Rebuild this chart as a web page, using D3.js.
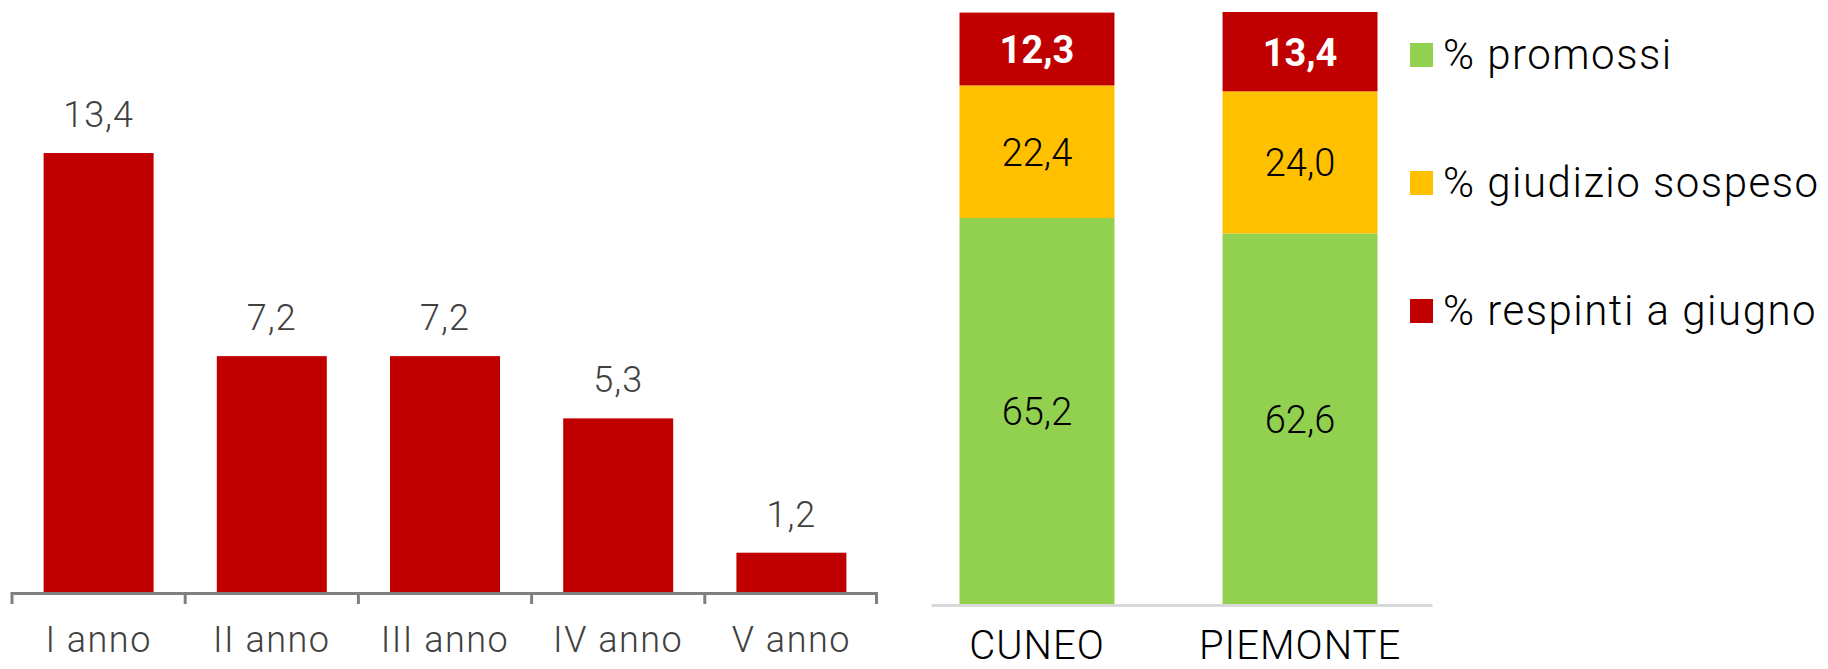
<!DOCTYPE html>
<html>
<head>
<meta charset="utf-8">
<script src="https://cdn.jsdelivr.net/npm/d3@7"></script>
<style>
  body { margin: 0; background: #fff; }
  svg { display: block; font-family: Roboto, "Open Sans", sans-serif; }
</style>
</head>
<body>
<div id="chart"></div>
<script>
// left chart: respinti per anno
let anni = ["I anno", "II anno", "III anno", "IV anno", "V anno"];
let respintiAnno = [13.4, 7.2, 7.2, 5.3, 1.2];

// right chart: esiti, stacked to 100
let aree = ["CUNEO", "PIEMONTE"];
let serie = ["% promossi", "% giudizio sospeso", "% respinti a giugno"];
let promossi = [65.2, 62.6];
let sospeso = [22.4, 24.0];
let respinti = [12.3, 13.4];

let colori = ["#92D050", "#FFC000", "#C00000"];

let fmt = v => d3.format(".1f")(v).replace(".", ",");

let svg = d3.select("#chart").append("svg")
    .attr("width", 1828)
    .attr("height", 669);

// ---- left chart ----
let lx = d3.scaleBand()
    .domain(anni)
    .range([12, 878])
    .paddingInner(0.365)
    .paddingOuter(0.1825);

let ly = d3.scaleLinear()
    .domain([0, 14])
    .range([592, 592 - 14 * 32.76]);

let left = svg.append("g");

left.selectAll(".bar")
    .data(anni)
    .enter().append("rect")
    .attr("class", "bar")
    .attr("x", d => lx(d))
    .attr("y", (d, i) => ly(respintiAnno[i]))
    .attr("width", lx.bandwidth())
    .attr("height", (d, i) => ly(0) - ly(respintiAnno[i]))
    .style("fill", "#C00000");

left.selectAll(".val")
    .data(anni)
    .enter().append("text")
    .attr("class", "val")
    .attr("text-anchor", "middle")
    .attr("x", d => lx(d) + lx.bandwidth() / 2)
    .attr("y", (d, i) => ly(respintiAnno[i]) - 26)
    .style("font-size", "36px")
    .style("font-weight", 300)
    .style("letter-spacing", "1px")
    .style("fill", "#404040")
    .text((d, i) => fmt(respintiAnno[i]));

// axis with ticks between categories
let lstep = lx.step();
let tickPos = anni.map(d => lx(d) - lstep * lx.paddingInner() / 2);
tickPos.push(lx.range()[1]);

left.append("line")
    .attr("x1", lx.range()[0])
    .attr("x2", lx.range()[1])
    .attr("y1", ly(0) + 1.5)
    .attr("y2", ly(0) + 1.5)
    .style("stroke", "#808080")
    .style("stroke-width", 3);

left.selectAll(".tick")
    .data(tickPos)
    .enter().append("line")
    .attr("class", "tick")
    .attr("x1", d => d === lx.range()[0] ? d + 1.5 : (d === lx.range()[1] ? d - 1.5 : d))
    .attr("x2", d => d === lx.range()[0] ? d + 1.5 : (d === lx.range()[1] ? d - 1.5 : d))
    .attr("y1", ly(0))
    .attr("y2", ly(0) + 12)
    .style("stroke", "#808080")
    .style("stroke-width", 3);

left.selectAll(".cat")
    .data(anni)
    .enter().append("text")
    .attr("class", "cat")
    .attr("text-anchor", "middle")
    .attr("x", d => lx(d) + lx.bandwidth() / 2)
    .attr("y", 652)
    .style("font-size", "36px")
    .style("font-weight", 300)
    .style("letter-spacing", "1.5px")
    .style("fill", "#404040")
    .text(d => d);

// ---- right chart ----
let rx = d3.scaleBand()
    .domain(aree)
    .range([959.5, 1377.5])
    .paddingInner(0.411)
    .paddingOuter(0);

let ry = d3.scaleLinear()
    .domain([0, 100])
    .range([604, 12]);

let table = aree.map((a, i) => ({
    area: a,
    "% promossi": promossi[i],
    "% giudizio sospeso": sospeso[i],
    "% respinti a giugno": respinti[i]
}));

let stacked = d3.stack().keys(serie)(table);

let right = svg.append("g");

right.append("line")
    .attr("x1", rx.range()[0] - 28)
    .attr("x2", rx.range()[1] + 55)
    .attr("y1", ry(0) + 1.5)
    .attr("y2", ry(0) + 1.5)
    .style("stroke", "#D9D9D9")
    .style("stroke-width", 3);

let layer = right.selectAll(".layer")
    .data(stacked)
    .enter().append("g")
    .attr("class", "layer")
    .style("fill", (d, i) => colori[i]);

layer.selectAll("rect")
    .data(d => d)
    .enter().append("rect")
    .attr("x", d => rx(d.data.area))
    .attr("y", d => ry(d[1]))
    .attr("width", rx.bandwidth())
    .attr("height", d => ry(d[0]) - ry(d[1]));

stacked.forEach((s, si) => {
    right.selectAll(".lab" + si)
        .data(s)
        .enter().append("text")
        .attr("class", "lab" + si)
        .attr("text-anchor", "middle")
        .attr("x", d => rx(d.data.area) + rx.bandwidth() / 2)
        .attr("y", d => (ry(d[0]) + ry(d[1])) / 2 + 14)
        .style("font-size", "38px")
        .style("font-weight", si === 2 ? "bold" : 300)
        .style("fill", si === 2 ? "#ffffff" : "#000000")
        .text(d => fmt(d[1] - d[0]));
});

right.selectAll(".area")
    .data(aree)
    .enter().append("text")
    .attr("class", "area")
    .attr("text-anchor", "middle")
    .attr("x", d => rx(d) + rx.bandwidth() / 2)
    .attr("y", 659)
    .style("font-size", "40px")
    .style("font-weight", 300)
    .style("letter-spacing", "1px")
    .style("fill", "#000000")
    .text(d => d);

// legend
let legend = svg.append("g")
    .attr("transform", "translate(1410,43)");

let item = legend.selectAll(".item")
    .data(serie)
    .enter().append("g")
    .attr("class", "item")
    .attr("transform", (d, i) => "translate(0," + i * 128 + ")");

item.append("rect")
    .attr("width", 23)
    .attr("height", 24)
    .style("fill", (d, i) => colori[i]);

item.append("text")
    .attr("x", 33)
    .attr("y", 26)
    .style("font-size", "42px")
    .style("font-weight", 300)
    .style("letter-spacing", "1.5px")
    .style("fill", "#000000")
    .text(d => d);
</script>
</body>
</html>
